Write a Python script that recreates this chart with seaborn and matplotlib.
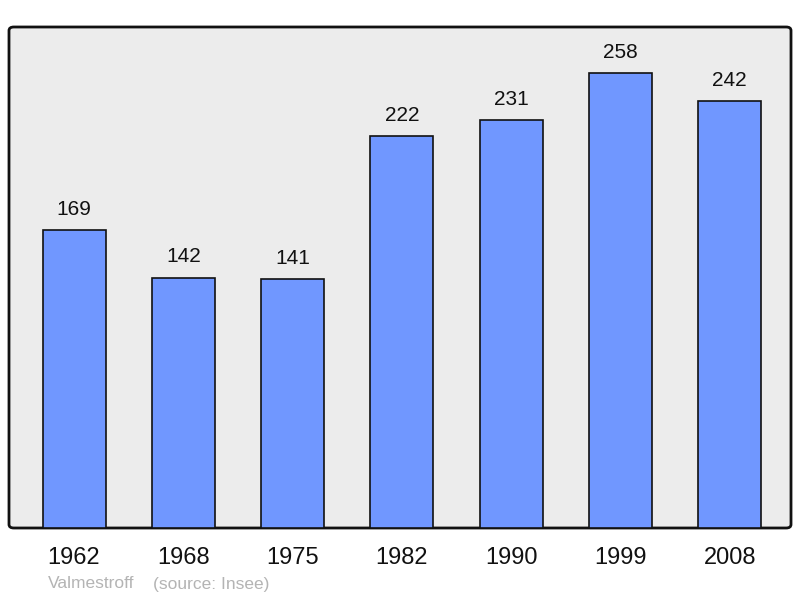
import matplotlib
matplotlib.use("Agg")
import matplotlib.pyplot as plt
import seaborn as sns
import pandas as pd
from matplotlib.patches import FancyBboxPatch

years = ["1962", "1968", "1975", "1982", "1990", "1999", "2008"]
population = [169, 142, 141, 222, 231, 258, 242]
town = "Valmestroff"
source = "(source: Insee)"

BAR_COLOR = "#7097ff"
BG_COLOR = "#ececec"

sns.set_style("white")
plt.rcParams["font.family"] = ["Liberation Sans", "DejaVu Sans"]

df = pd.DataFrame({"year": years, "pop": population})

fig = plt.figure(figsize=(8, 5.98), dpi=100)
ax = fig.add_axes([9 / 800, 70 / 598, 782 / 800, 501 / 598])
ax.set_facecolor("none")
ax.set_zorder(2)

# rounded frame behind the bars
frame = FancyBboxPatch((9 / 800, 70 / 598), 782 / 800, 501 / 598,
                       boxstyle="round,pad=0,rounding_size=0.006",
                       transform=fig.transFigure, facecolor=BG_COLOR,
                       edgecolor="#111111", linewidth=2, zorder=-1)
fig.patches.append(frame)

sns.barplot(data=df, x="year", y="pop", color=BAR_COLOR, width=0.576,
            saturation=1, edgecolor="#111111", linewidth=1.2, ax=ax, zorder=2)

ax.set_xlim(-0.595, 6.56)
ax.set_ylim(0, 284)
for s in ax.spines.values():
    s.set_visible(False)
ax.set_yticks([])
ax.set_xlabel("")
ax.set_ylabel("")
ax.tick_params(axis="x", length=0, labelsize=17, pad=14, labelcolor="#111111")

for i, v in enumerate(population):
    ax.annotate(str(v), (i, v), xytext=(0, 8), textcoords="offset points",
                ha="center", va="bottom", fontsize=15, color="#111111")

fig.text(48 / 800, 1 - 584 / 598, town, fontsize=12.5, color="#b4b4b4",
         va="center", ha="left")
fig.text(153 / 800, 1 - 584 / 598, source, fontsize=12.5, color="#b4b4b4",
         va="center", ha="left")

fig.savefig("out.png", dpi=100)
